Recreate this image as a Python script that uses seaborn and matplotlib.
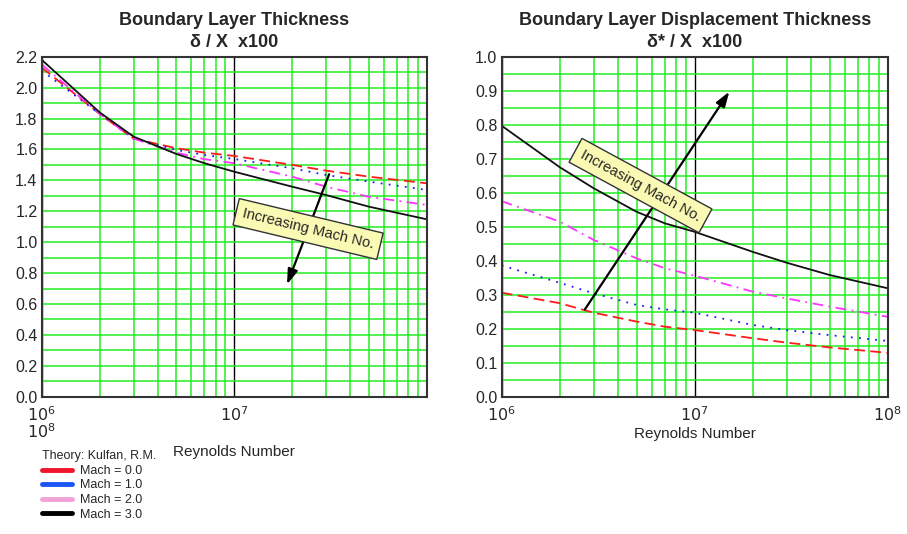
import numpy as np
import pandas as pd
import matplotlib
matplotlib.use('Agg')
import matplotlib.pyplot as plt
import seaborn as sns
from matplotlib.lines import Line2D
from matplotlib.ticker import (LogLocator, MultipleLocator, NullFormatter,
                               FixedLocator, FormatStrFormatter)

# ---------------- data ----------------
reynolds = [1e6, 2e6, 3e6, 5e6, 7e6, 1e7, 2e7, 3e7, 5e7, 1e8]
mach_labels = ['Mach = 0.0', 'Mach = 1.0', 'Mach = 2.0', 'Mach = 3.0']

# delta / X x100
thick_m0 = [2.13, 1.83, 1.67, 1.608, 1.579, 1.558, 1.500, 1.463, 1.424, 1.381]
thick_m1 = [2.11, 1.83, 1.67, 1.597, 1.564, 1.538, 1.478, 1.435, 1.392, 1.338]
thick_m2 = [2.15, 1.83, 1.67, 1.579, 1.537, 1.511, 1.424, 1.359, 1.294, 1.241]
thick_m3 = [2.18, 1.84, 1.683, 1.571, 1.511, 1.456, 1.359, 1.305, 1.230, 1.148]

# delta* / X x100
disp_m0 = [0.306, 0.275, 0.247, 0.221, 0.206, 0.196, 0.172, 0.159, 0.145, 0.129]
disp_m1 = [0.386, 0.335, 0.304, 0.270, 0.257, 0.247, 0.211, 0.196, 0.181, 0.164]
disp_m2 = [0.575, 0.515, 0.461, 0.407, 0.378, 0.356, 0.309, 0.289, 0.265, 0.235]
disp_m3 = [0.797, 0.675, 0.613, 0.544, 0.510, 0.485, 0.426, 0.394, 0.358, 0.319]

line_colors = ['#ff1a1a', '#1a1aff', '#ff33ff', '#111111']
line_styles = [(0, (6, 3)), (0, (1, 3.5)), (0, (6, 3, 1, 3)), '-']
legend_colors = ['#f0142d', '#1a55f5', '#f2a2d6', '#000000']

# ---------------- figure ----------------
sns.set_style('white')
plt.rcParams['font.family'] = ['Liberation Sans', 'DejaVu Sans']

fig = plt.figure(figsize=(9.07, 5.34), dpi=100)
ax1 = fig.add_axes([0.046, 0.2571, 0.4244, 0.6367])
ax2 = fig.add_axes([0.5531, 0.2571, 0.4256, 0.6367])


def draw_panel(ax, series, ymax, ymajor, yminor):
    for vals, lab, col, ls in zip(series, mach_labels, line_colors, line_styles):
        df = pd.DataFrame({'Re': reynolds, 'val': vals})
        sns.lineplot(data=df, x='Re', y='val', ax=ax, color=col, linewidth=1.3,
                     linestyle=ls, legend=False)
    ax.set_xscale('log')
    ax.set_xlim(1e6, 1e8)
    ax.set_ylim(0, ymax)
    ax.yaxis.set_major_locator(MultipleLocator(ymajor))
    ax.yaxis.set_minor_locator(MultipleLocator(yminor))
    ax.yaxis.set_major_formatter(FormatStrFormatter('%.1f'))
    ax.xaxis.set_minor_locator(LogLocator(base=10, subs=np.arange(2, 10)))
    ax.xaxis.set_minor_formatter(NullFormatter())
    ax.grid(True, which='minor', axis='x', color='#22ee22', linewidth=1.1)
    ax.grid(True, which='major', axis='x', color='black', linewidth=1.0)
    ax.grid(True, which='both', axis='y', color='#22ee22', linewidth=1.1)
    ax.set_axisbelow(True)
    ax.tick_params(which='both', length=0, labelsize=11.5)
    ax.tick_params(axis='y', pad=3)
    ax.tick_params(axis='x', pad=6)
    for sp in ax.spines.values():
        sp.set_color('#333333')
        sp.set_linewidth(1.5)
    ax.set_ylabel('')


draw_panel(ax1, [thick_m0, thick_m1, thick_m2, thick_m3], 2.2, 0.2, 0.1)
draw_panel(ax2, [disp_m0, disp_m1, disp_m2, disp_m3], 1.0, 0.1, 0.05)

# left panel only labels 10^6 and 10^7 on the line, 10^8 wraps underneath
ax1.xaxis.set_major_locator(FixedLocator([1e6, 1e7]))
ax1.set_xticklabels([r'$10^{6}$', r'$10^{7}$'])
ax1.text(0.0, -0.102, r'$10^{8}$', transform=ax1.transAxes, ha='center',
         va='center', fontsize=11.5)
ax2.xaxis.set_major_locator(FixedLocator([1e6, 1e7, 1e8]))
ax2.set_xticklabels([r'$10^{6}$', r'$10^{7}$', r'$10^{8}$'])

ax1.set_xlabel('Reynolds Number', fontsize=11, labelpad=15)
ax2.set_xlabel('Reynolds Number', fontsize=11, labelpad=2)

ax1.set_title('Boundary Layer Thickness\n\u03b4 / X  x100', fontsize=13,
              fontweight='bold', linespacing=1.42, pad=7)
ax2.set_title('Boundary Layer Displacement Thickness\n\u03b4* / X  x100', fontsize=13,
              fontweight='bold', linespacing=1.42, pad=7)

# "Increasing Mach No." annotations
box = dict(boxstyle='square,pad=0.45', facecolor='#fafab4', edgecolor='#333333',
           linewidth=1.0)
ax1.annotate('', xy=(1.86e7, 0.71), xytext=(3.15e7, 1.456),
             arrowprops=dict(arrowstyle='-|>,head_length=0.9,head_width=0.3',
                             color='black', lw=1.6))
ax1.text(2.42e7, 1.085, 'Increasing Mach No.', rotation=-13.5, ha='center',
         va='center', fontsize=10.5, bbox=box, rotation_mode='anchor')

ax2.annotate('', xy=(1.54e7, 0.904), xytext=(2.65e6, 0.25),
             arrowprops=dict(arrowstyle='-|>,head_length=0.9,head_width=0.3',
                             color='black', lw=1.6))
ax2.text(5.24e6, 0.621, 'Increasing Mach No.', rotation=-28.5, ha='center',
         va='center', fontsize=10.5, bbox=box, rotation_mode='anchor')

# legend
handles = [Line2D([0], [0], color=c, linewidth=3.5) for c in legend_colors]
leg = fig.legend(handles, mach_labels, loc='upper left',
                 bbox_to_anchor=(34 / 907, 1 - 443 / 534), frameon=False,
                 title='Theory: Kulfan, R.M.', title_fontsize=9, fontsize=9,
                 handlelength=2.4, handletextpad=0.65, labelspacing=0.2,
                 borderpad=0.1)
leg._legend_box.align = 'left'

fig.savefig('out.png', dpi=100)
